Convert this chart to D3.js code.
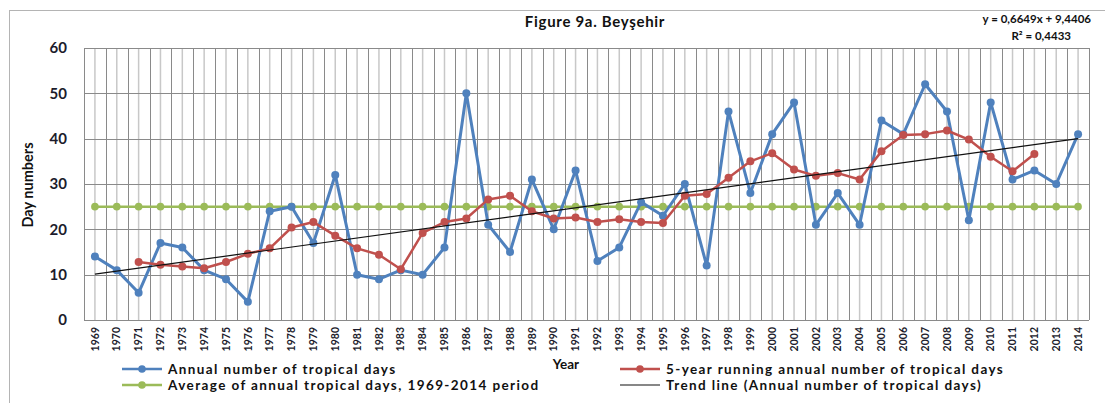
<!DOCTYPE html>
<html>
<head>
<meta charset="utf-8">
<script src="https://cdn.jsdelivr.net/npm/d3@7"></script>
<style>
  html, body { margin: 0; padding: 0; background: #fff; }
  svg { display: block; }
  text { font-family: Lato, "Open Sans", "DejaVu Sans", sans-serif; font-weight: bold; }
</style>
</head>
<body>
<svg id="chart" width="1105" height="403"></svg>
<script>
// ---- Data ----
const years = d3.range(1969, 2015).map(String);
const annualDays = [14, 11, 6, 17, 16, 11, 9, 4, 24, 25, 17, 32, 10, 9, 11, 10, 16, 50, 21, 15,
  31, 20, 33, 13, 16, 26, 23, 30, 12, 46, 28, 41, 48, 21, 28, 21, 44, 41, 52, 46, 22, 48, 31, 33, 30, 41];
const runningYears = d3.range(1971, 2013).map(String);
const runningDays = [12.8, 12.2, 11.8, 11.4, 12.8, 14.6, 15.8, 20.4, 21.6, 18.6, 15.8, 14.4, 11.2, 19.2,
  21.6, 22.4, 26.6, 27.4, 24.0, 22.4, 22.6, 21.6, 22.2, 21.6, 21.4, 27.4, 27.8, 31.4, 35.0, 36.8,
  33.2, 31.8, 32.4, 31.0, 37.2, 40.8, 41.0, 41.8, 39.8, 36.0, 32.8, 36.6];
const averageDays = years.map(() => 25);
const trendSlope = 0.6649, trendIntercept = 9.4406;
const yTicks = [0, 10, 20, 30, 40, 50, 60];
const titleText = "Figure 9a. Beyşehir";
const equationText = "y = 0,6649x + 9,4406";
const r2Text = "R² = 0,4433";
const legendItems = [
  "Annual number of tropical days",
  "Average of annual tropical days, 1969-2014 period",
  "5-year running annual number of tropical days",
  "Trend line (Annual number of tropical days)"
];

// ---- Layout ----
const svg = d3.select("#chart");
const L = 84, R = 1089, T = 48, B = 320;
const blue = "#4F81BD", red = "#C0504D", green = "#9BBB59";

const x = d3.scaleBand().domain(years).range([L, R]).paddingInner(0).paddingOuter(0);
const bw = x.bandwidth();
const cx = d => x(d) + bw / 2;
const y = d3.scaleLinear().domain([0, 60]).range([B, T]);

// outer chart border
svg.append("rect").attr("x", 9.5).attr("y", 10.5).attr("width", 1110).attr("height", 410)
  .attr("fill", "none").attr("stroke", "#b4b4b4").attr("stroke-width", 1);

// gridlines: light at band centres
const grid = svg.append("g");
grid.selectAll("line.c").data(years).enter().append("line")
  .attr("x1", d => cx(d)).attr("x2", d => cx(d)).attr("y1", T).attr("y2", B)
  .attr("stroke", "#c8c8c8").attr("stroke-width", 1.5);
// dark at band boundaries
const bounds = years.map(d => x(d)).concat([R]);
grid.selectAll("line.b").data(bounds).enter().append("line")
  .attr("x1", d => Math.round(d) + 0.5).attr("x2", d => Math.round(d) + 0.5).attr("y1", T).attr("y2", B)
  .attr("stroke", "#8a8a8a").attr("stroke-width", 1);
grid.selectAll("line.h").data(yTicks).enter().append("line")
  .attr("x1", L).attr("x2", R).attr("y1", d => Math.round(y(d)) + 0.5).attr("y2", d => Math.round(y(d)) + 0.5)
  .attr("stroke", "#8a8a8a").attr("stroke-width", 1);

// axes
const yAxis = svg.append("g").attr("transform", `translate(${L},0)`)
  .call(d3.axisLeft(y).tickValues(yTicks).tickSize(0).tickPadding(17));
yAxis.select(".domain").remove();
yAxis.selectAll("text").attr("font-size", 15).attr("fill", "#1c1c2c")
  .style("font-family", "Lato, sans-serif").style("font-weight", "bold");

const xAxis = svg.append("g").attr("transform", `translate(0,${B})`)
  .call(d3.axisBottom(x).tickSize(0));
xAxis.select(".domain").remove();
xAxis.selectAll("text")
  .attr("transform", "rotate(-90)")
  .attr("x", -7).attr("y", 0).attr("dy", "0.35em")
  .style("text-anchor", "end")
  .attr("font-size", 10.5).attr("fill", "#1c1c2c")
  .style("font-family", "Lato, sans-serif").style("font-weight", "bold");

// axis titles
svg.append("text").attr("transform", "translate(33,185) rotate(-90)")
  .attr("text-anchor", "middle").attr("font-size", 14.5).attr("fill", "#111").text("Day numbers");
svg.append("text").attr("x", 566).attr("y", 369).attr("text-anchor", "middle")
  .attr("font-size", 13.5).attr("fill", "#111").text("Year");

// title & equation
svg.append("text").attr("x", 595).attr("y", 27).attr("text-anchor", "middle")
  .attr("font-size", 15).attr("letter-spacing", 0.7).attr("fill", "#111").text(titleText);
svg.append("text").attr("x", 1091).attr("y", 23).attr("text-anchor", "end")
  .attr("font-size", 11.5).attr("fill", "#111").text(equationText);
svg.append("text").attr("x", 1071).attr("y", 40).attr("text-anchor", "end")
  .attr("font-size", 11.5).attr("fill", "#111").text(r2Text);

// series
const lineGen = d3.line().x(d => cx(d[0])).y(d => y(d[1]));
const avgData = years.map((yr, i) => [yr, averageDays[i]]);
const annData = years.map((yr, i) => [yr, annualDays[i]]);
const runData = runningYears.map((yr, i) => [yr, runningDays[i]]);

function drawSeries(data, color, width, r) {
  const g = svg.append("g");
  g.append("path").datum(data).attr("d", lineGen).attr("fill", "none")
    .attr("stroke", color).attr("stroke-width", width).attr("stroke-linejoin", "round");
  g.selectAll("circle").data(data).enter().append("circle")
    .attr("cx", d => cx(d[0])).attr("cy", d => y(d[1])).attr("r", r).attr("fill", color);
}
drawSeries(avgData, green, 2.5, 3.8);
drawSeries(annData, blue, 3, 4);
drawSeries(runData, red, 2.5, 4);

// trend line
const firstYear = years[0], lastYear = years[years.length - 1];
svg.append("line")
  .attr("x1", cx(firstYear)).attr("y1", y(trendSlope * 1 + trendIntercept))
  .attr("x2", cx(lastYear)).attr("y2", y(trendSlope * years.length + trendIntercept))
  .attr("stroke", "#111").attr("stroke-width", 1.2);

// legend
const legend = svg.append("g");
const legPos = [
  { x: 122, y: 369, color: blue, marker: true },
  { x: 122, y: 385, color: green, marker: true },
  { x: 620, y: 369, color: red, marker: true },
  { x: 620, y: 385, color: "#111", marker: false }
];
legPos.forEach((p, i) => {
  legend.append("line").attr("x1", p.x).attr("x2", p.x + 40).attr("y1", p.y).attr("y2", p.y)
    .attr("stroke", p.color).attr("stroke-width", p.marker ? 2.5 : 1.2);
  if (p.marker) legend.append("circle").attr("cx", p.x + 20).attr("cy", p.y).attr("r", 3.8).attr("fill", p.color);
  legend.append("text").attr("x", p.x + 46).attr("y", p.y + 5)
    .attr("font-size", 13.5).attr("letter-spacing", 1.4).attr("fill", "#111").text(legendItems[i]);
});
</script>
</body>
</html>
